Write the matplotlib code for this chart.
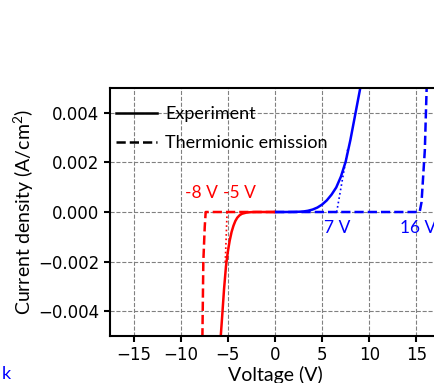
"""
Current density vs voltage: experiment against thermionic-emission model.
"""

import matplotlib
matplotlib.use("Agg")
import matplotlib.pyplot as plt
from matplotlib.ticker import FuncFormatter

plt.rcParams["mathtext.fontset"] = "custom"
plt.rcParams["mathtext.rm"] = "Lato"
plt.rcParams["mathtext.it"] = "Lato:italic"

TXT = "Lato"

# experiment, forward branch (blue) and reverse branch (red)
v_fwd = [0, 1, 2, 2.5, 3, 3.5, 4, 4.5, 5, 5.5, 6, 6.5, 7, 7.5, 8, 8.5, 9.1]
j_fwd = [0, 0, 0.000004, 0.00001, 0.00002, 0.00005, 0.0001, 0.00018, 0.0003,
         0.00047, 0.0007, 0.00099, 0.00143, 0.00203, 0.0029, 0.0039, 0.0051]
v_rev = [-5.75, -5.6, -5.4, -5.2, -5.0, -4.8, -4.6, -4.4, -4.2, -4.0,
         -3.75, -3.5, -3.0, -2.5, -2.0, -1.0, 0]
j_rev = [-0.005, -0.0042, -0.0031, -0.0022, -0.0016, -0.00115, -0.0008,
         -0.00055, -0.00036, -0.00023, -0.00013, -0.00007, -0.00002,
         -0.000005, 0, 0, 0]

# thermionic emission model
v_te_fwd = [0, 15.35, 15.55, 15.9, 16.1]
j_te_fwd = [0, 0, 0.0004, 0.0025, 0.0051]
v_te_rev = [0, -7.35, -7.45, -7.6, -7.7]
j_te_rev = [0, 0, -0.0006, -0.002, -0.0051]

# extrapolated onset lines
v_tan_fwd = [6.55, 7.75]
j_tan_fwd = [0, 0.0026]
v_tan_rev = [-5.08, -5.28]
j_tan_rev = [0, -0.0021]

labels = [("-8 V", -7.85, 0.00077, "r"), ("-5 V", -3.75, 0.00077, "r"),
          ("7 V", 6.6, -0.00065, "b"), ("16 V", 15.2, -0.00065, "b")]

fig = plt.figure(figsize=(4.35, 3.83), dpi=100)
ax = fig.add_axes([0.2529, 0.1227, 0.7584, 0.6475])

ax.plot(v_fwd, j_fwd, color="b", lw=1.8)
ax.plot(v_rev, j_rev, color="r", lw=1.8)
ax.plot(v_te_fwd, j_te_fwd, color="b", lw=1.8, ls="--")
ax.plot(v_te_rev, j_te_rev, color="r", lw=1.8, ls="--")
ax.plot(v_tan_fwd, j_tan_fwd, color="b", lw=1.2, ls=":")
ax.plot(v_tan_rev, j_tan_rev, color="r", lw=1.2, ls=":")

# legend proxies
ax.plot([], [], color="k", lw=1.8, label="Experiment")
ax.plot([], [], color="k", lw=1.8, ls="--", label="Thermionic emission")

for txt, x, y, c in labels:
    ax.text(x, y, txt, color=c, fontsize=12.5, family=TXT,
            ha="center", va="center")

ax.set_xlim(-17.5, 17.5)
ax.set_ylim(-0.005, 0.005)
ax.set_xticks([-15, -10, -5, 0, 5, 10, 15])
ax.set_yticks([-0.004, -0.002, 0.0, 0.002, 0.004])
ax.yaxis.set_major_formatter(FuncFormatter(lambda v, p: f"{v:.3f}".replace("-", "\u2212")))
ax.tick_params(labelsize=12, width=1.5, length=4)
for s in ax.spines.values():
    s.set_linewidth(1.5)
ax.grid(True, color="gray", ls="--", lw=0.8)

ax.set_xlabel("Voltage (V)", fontsize=14, family=TXT, labelpad=1)
ax.set_ylabel("Current density (A/cm$^2$)", fontsize=14, family=TXT, labelpad=2)

ax.legend(loc="upper left", bbox_to_anchor=(-0.005, 0.955), frameon=False,
          prop={"family": TXT, "size": 13}, labelspacing=0.72,
          handlelength=2.3, handletextpad=0.45, borderaxespad=0.2,
          borderpad=0.2)

fig.text(0.003, 0.003, "k", color="b", fontsize=13, family=TXT,
         ha="left", va="bottom")

fig.savefig("out.png", dpi=100)
